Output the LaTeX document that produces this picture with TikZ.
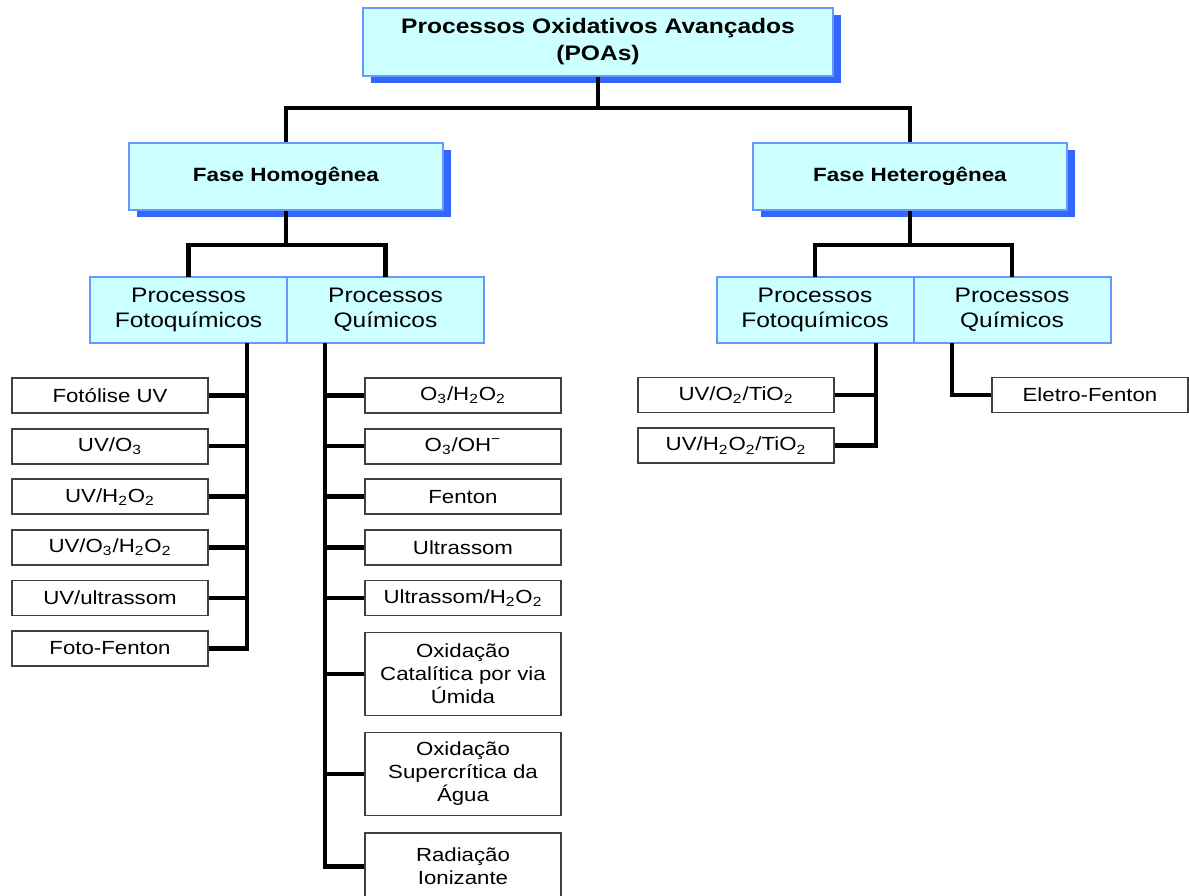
\documentclass[tikz,border=0pt]{standalone}
\usepackage{fontspec}
\setmainfont{Liberation Sans}[FakeStretch=1.17]
\usetikzlibrary{positioning, shadows}
\definecolor{caixaazul}{HTML}{CCFFFF}
\definecolor{bordaazul}{HTML}{6699FF}
\definecolor{sombraazul}{HTML}{3366FF}

\begin{document}
\begin{tikzpicture}[
    x=0.5pt, y=-0.5pt,
    fase/.style={draw=bordaazul, line width=1pt, fill=caixaazul, align=center, inner sep=0pt,
        general shadow={fill=sombraazul, shadow xshift=4pt, shadow yshift=-3.5pt}},
    grupo/.style={draw=bordaazul, line width=1pt, fill=caixaazul, align=center, inner sep=0pt, outer sep=0pt,
        minimum width=98.5pt, minimum height=33pt, font=\fontsize{10.5}{12.5}\selectfont},
    folha/.style={draw=black!75, line width=0.9pt, fill=white, align=center, inner sep=0pt,
        minimum width=98pt, minimum height=17.5pt, font=\fontsize{9.5}{11.5}\selectfont},
    ligacao/.style={line width=2.3pt},
    node distance=6.9pt
]
    \useasboundingbox (0,0) rectangle (1189,895);

    % Topo e fases
    \node[fase, minimum width=235pt, minimum height=34pt, font=\fontsize{10.5}{13.5}\selectfont\bfseries] (poa) at (598,42) {Processos Oxidativos Avançados\\(POAs)};
    \node[fase, minimum width=157pt, minimum height=33.5pt, font=\fontsize{9.6}{12}\selectfont\bfseries] (homo) at (286,176.5) {Fase Homogênea};
    \node[fase, minimum width=157pt, minimum height=33.5pt, font=\fontsize{9.6}{12}\selectfont\bfseries] (hetero) at (910,176.5) {Fase Heterogênea};

    % Grupos de processos
    \node[grupo] (fotoHomo) at (188.5,310) {Processos\\Fotoquímicos};
    \node[grupo, right=0pt of fotoHomo] (quimHomo) {Processos\\Químicos};
    \node[grupo] (fotoHetero) at (815,310) {Processos\\Fotoquímicos};
    \node[grupo, right=0pt of fotoHetero] (quimHetero) {Processos\\Químicos};

    % Fase homogênea - fotoquímicos
    \node[folha] (fotolise) at (110,395.5) {Fotólise UV};
    \node[folha, below=of fotolise] (uvO3) {UV/O\textsubscript{3}};
    \node[folha, below=of uvO3] (uvH2O2) {UV/H\textsubscript{2}O\textsubscript{2}};
    \node[folha, below=of uvH2O2] (uvO3H2O2) {UV/O\textsubscript{3}/H\textsubscript{2}O\textsubscript{2}};
    \node[folha, below=of uvO3H2O2] (uvUltra) {UV/ultrassom};
    \node[folha, below=of uvUltra] (fotoFenton) {Foto-Fenton};

    % Fase homogênea - químicos
    \node[folha] (o3H2O2) at (463,395.5) {O\textsubscript{3}/H\textsubscript{2}O\textsubscript{2}};
    \node[folha, below=of o3H2O2] (o3OH) {O\textsubscript{3}/OH\textsuperscript{−}};
    \node[folha, below=of o3OH] (fenton) {Fenton};
    \node[folha, below=of fenton] (ultra) {Ultrassom};
    \node[folha, below=of ultra] (ultraH2O2) {Ultrassom/H\textsubscript{2}O\textsubscript{2}};
    \node[folha, minimum height=41.5pt, below=7.6pt of ultraH2O2] (catalitica) {Oxidação\\Catalítica por via\\Úmida};
    \node[folha, minimum height=41.5pt, below=7.6pt of catalitica] (supercritica) {Oxidação\\Supercrítica da\\Água};
    \node[folha, minimum height=33pt, below=8pt of supercritica] (radiacao) {Radiação\\Ionizante};

    % Fase heterogênea
    \node[folha] (uvO2TiO2) at (736,395) {UV/O\textsubscript{2}/TiO\textsubscript{2}};
    \node[folha, below=of uvO2TiO2] (uvH2O2TiO2) {UV/H\textsubscript{2}O\textsubscript{2}/TiO\textsubscript{2}};
    \node[folha] (eletro) at (1090,395) {Eletro-Fenton};

    % Ligações da árvore
    \draw[ligacao] (poa.south) -- ++(0,31) coordinate (nivel1);
    \draw[ligacao] (nivel1) -| (homo.north);
    \draw[ligacao] (nivel1) -| (hetero.north);
    \draw[ligacao] (homo.south) -- ++(0,34) coordinate (nivel2);
    \draw[ligacao] (nivel2) -| (fotoHomo.north);
    \draw[ligacao] (nivel2) -| (quimHomo.north);
    \draw[ligacao] (hetero.south) -- ++(0,34) coordinate (nivel3);
    \draw[ligacao] (nivel3) -| (fotoHetero.north);
    \draw[ligacao] (nivel3) -| (quimHetero.north);

    % Troncos das listas
    \coordinate (troncoFH) at (247,343);
    \coordinate (troncoQH) at (325,343);
    \coordinate (troncoFE) at (876,343);
    \coordinate (troncoQE) at (952,343);

    \draw[ligacao] (troncoFH) |- (fotolise.east);
    \draw[ligacao] (troncoFH) |- (uvO3.east);
    \draw[ligacao] (troncoFH) |- (uvH2O2.east);
    \draw[ligacao] (troncoFH) |- (uvO3H2O2.east);
    \draw[ligacao] (troncoFH) |- (uvUltra.east);
    \draw[ligacao] (troncoFH) |- (fotoFenton.east);

    \draw[ligacao] (troncoQH) |- (o3H2O2.west);
    \draw[ligacao] (troncoQH) |- (o3OH.west);
    \draw[ligacao] (troncoQH) |- (fenton.west);
    \draw[ligacao] (troncoQH) |- (ultra.west);
    \draw[ligacao] (troncoQH) |- (ultraH2O2.west);
    \draw[ligacao] (troncoQH) |- (catalitica.west);
    \draw[ligacao] (troncoQH) |- (supercritica.west);
    \draw[ligacao] (troncoQH) |- (radiacao.west);

    \draw[ligacao] (troncoFE) |- (uvO2TiO2.east);
    \draw[ligacao] (troncoFE) |- (uvH2O2TiO2.east);
    \draw[ligacao] (troncoQE) |- (eletro.west);

\end{tikzpicture}
\end{document}
